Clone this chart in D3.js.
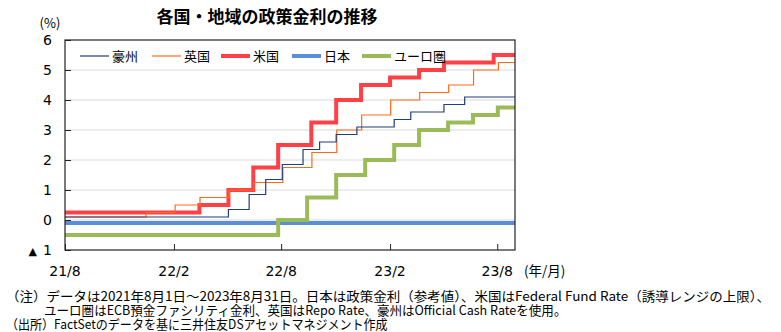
<!DOCTYPE html>
<html lang="ja">
<head>
<meta charset="utf-8">
<script src="https://cdn.jsdelivr.net/npm/d3@7"></script>
<style>
  html, body { margin: 0; padding: 0; background: #fff; }
  svg { display: block; }
</style>
</head>
<body>
<svg id="chart" width="781" height="332"></svg>
<script>
// Policy rate change dates and levels (rate in effect from that date on)
const startDate = "2021-08-01";
const endDate = "2023-08-31";

const audDates = ["2021-08-01","2022-05-04","2022-06-08","2022-07-06","2022-08-03","2022-09-07","2022-10-05","2022-11-02","2022-12-07","2023-02-08","2023-03-08","2023-05-03","2023-06-07"];
const audRates = [0.10,0.35,0.85,1.35,1.85,2.35,2.60,2.85,3.10,3.35,3.60,3.85,4.10];

const gbpDates = ["2021-08-01","2021-12-16","2022-02-03","2022-03-17","2022-05-05","2022-06-16","2022-08-04","2022-09-22","2022-11-03","2022-12-15","2023-02-02","2023-03-23","2023-05-11","2023-06-22","2023-08-03"];
const gbpRates = [0.10,0.25,0.50,0.75,1.00,1.25,1.75,2.25,3.00,3.50,4.00,4.25,4.50,5.00,5.25];

const usdDates = ["2021-08-01","2022-03-16","2022-05-04","2022-06-15","2022-07-27","2022-09-21","2022-11-02","2022-12-14","2023-02-01","2023-03-22","2023-05-03","2023-07-26"];
const usdRates = [0.25,0.50,1.00,1.75,2.50,3.25,4.00,4.50,4.75,5.00,5.25,5.50];

const jpyDates = ["2021-08-01"];
const jpyRates = [-0.10];

const eurDates = ["2021-08-01","2022-07-27","2022-09-14","2022-11-02","2022-12-21","2023-02-08","2023-03-22","2023-05-10","2023-06-21","2023-08-02"];
const eurRates = [-0.50,0.00,0.75,1.50,2.00,2.50,3.00,3.25,3.50,3.75];

const seriesNames = ["豪州","英国","米国","日本","ユーロ圏"];
const yTicks = [-1,0,1,2,3,4,5,6];
const xTickDates = ["2021-08-01","2022-02-01","2022-08-01","2023-02-01","2023-08-01"];
const xTickLabels = ["21/8","22/2","22/8","23/2","23/8"];

const title = "各国・地域の政策金利の推移";
const notes = [
  "（注）データは2021年8月1日～2023年8月31日。日本は政策金利（参考値）、米国はFederal Fund Rate（誘導レンジの上限）、",
  "ユーロ圏はECB預金ファシリティ金利、英国はRepo Rate、豪州はOfficial Cash Rateを使用。",
  "（出所）FactSetのデータを基に三井住友DSアセットマネジメント作成"
];

const parse = d3.utcParse("%Y-%m-%d");

const svg = d3.select("#chart");
const jp = "'Noto Sans CJK JP', 'Noto Sans', sans-serif";
const num = "'DejaVu Sans', Verdana, sans-serif";

const m = { left: 65, right: 266, top: 40, bottom: 82 };
const W = 781, H = 332;

const x = d3.scaleUtc()
  .domain([parse(startDate), parse(endDate)])
  .range([m.left, W - m.right]);
const y = d3.scaleLinear()
  .domain([-1, 6])
  .range([H - m.bottom, m.top]);

// Gridlines
svg.append("g")
  .selectAll("line")
  .data(yTicks.filter(v => v > -1 && v < 6))
  .join("line")
  .attr("x1", m.left).attr("x2", W - m.right)
  .attr("y1", d => y(d)).attr("y2", d => y(d))
  .attr("stroke", "#d9d9d9").attr("stroke-width", 1);

// Series as step lines
const series = [
  { dates: audDates, rates: audRates, color: "#1f3f7a", width: 1.2 },
  { dates: gbpDates, rates: gbpRates, color: "#ff6a1a", width: 1.2 },
  { dates: usdDates, rates: usdRates, color: "#ff4047", width: 4 },
  { dates: jpyDates, rates: jpyRates, color: "#5a8fd8", width: 4 },
  { dates: eurDates, rates: eurRates, color: "#9bbb59", width: 4 }
];

const line = d3.line()
  .x(d => x(d[0]))
  .y(d => y(d[1]))
  .curve(d3.curveStepAfter);

const plot = svg.append("g");
series.forEach(s => {
  const pts = s.dates.map((d, i) => [parse(d), s.rates[i]]);
  pts.push([parse(endDate), s.rates[s.rates.length - 1]]);
  s.pts = pts;
});
// Draw order: thick lines first, thin ones on top where they meet
[3, 4, 2, 1, 0].forEach(i => {
  const s = series[i];
  plot.append("path")
    .datum(s.pts)
    .attr("d", line)
    .attr("fill", "none")
    .attr("stroke", s.color)
    .attr("stroke-width", s.width)
    .attr("stroke-linejoin", "miter");
});

// Plot frame
svg.append("rect")
  .attr("x", m.left).attr("y", m.top)
  .attr("width", W - m.right - m.left)
  .attr("height", H - m.bottom - m.top)
  .attr("fill", "none").attr("stroke", "#222").attr("stroke-width", 1.2);

// Y axis (inward ticks)
const yAxis = d3.axisRight(y).tickValues(yTicks).tickSize(6).tickFormat("");
const yg = svg.append("g").attr("transform", `translate(${m.left},0)`).call(yAxis);
yg.select(".domain").remove();
yg.selectAll(".tick line").attr("stroke", "#222");

svg.append("g").selectAll("text")
  .data(yTicks)
  .join("text")
  .attr("x", 52).attr("y", d => y(d) + 5)
  .attr("text-anchor", "end")
  .attr("font-family", num).attr("font-size", 14).attr("fill", "#000")
  .text(d => d < 0 ? Math.abs(d) : d);
svg.append("text")
  .attr("x", 37).attr("y", y(-1) + 5)
  .attr("text-anchor", "end")
  .attr("font-family", num).attr("font-size", 11).attr("fill", "#000")
  .text("▲");

svg.append("text")
  .attr("x", 50).attr("y", 28)
  .attr("text-anchor", "middle")
  .attr("font-family", jp).attr("font-size", 13).attr("fill", "#000")
  .text("(%)");

// X axis (inward ticks)
const xAxis = d3.axisTop(x).tickValues(xTickDates.map(parse)).tickSize(6).tickFormat("");
const xg = svg.append("g").attr("transform", `translate(0,${H - m.bottom})`).call(xAxis);
xg.select(".domain").remove();
xg.selectAll(".tick line").attr("stroke", "#222");

svg.append("g").selectAll("text")
  .data(xTickDates)
  .join("text")
  .attr("x", d => x(parse(d)))
  .attr("y", 276)
  .attr("text-anchor", "middle")
  .attr("font-family", num).attr("font-size", 14).attr("fill", "#000")
  .text((d, i) => xTickLabels[i]);

svg.append("text")
  .attr("x", 524).attr("y", 276)
  .attr("font-family", jp).attr("font-size", 13.5).attr("fill", "#000")
  .text("(年/月)");

// Title
svg.append("text")
  .attr("x", 267).attr("y", 23)
  .attr("text-anchor", "middle")
  .attr("font-family", jp).attr("font-size", 17).attr("font-weight", "bold").attr("fill", "#000")
  .text(title);

// Legend
const legendX = [80, 152, 221, 292, 362];
const lg = svg.append("g");
series.forEach((s, i) => {
  lg.append("line")
    .attr("x1", legendX[i]).attr("x2", legendX[i] + 29)
    .attr("y1", 56).attr("y2", 56)
    .attr("stroke", s.color).attr("stroke-width", s.width);
  lg.append("text")
    .attr("x", legendX[i] + 32).attr("y", 61)
    .attr("font-family", jp).attr("font-size", 13).attr("fill", "#000")
    .text(seriesNames[i]);
});

// Notes: condensed horizontally to fit their line widths
const noteX = [6, 44, 6];
const noteY = [301, 315, 329];
const noteLen = [764, 523, 382];
const ng = svg.append("g");
notes.forEach((t, i) => {
  const g = ng.append("g");
  const txt = g.append("text")
    .attr("x", 0).attr("y", 0)
    .attr("font-family", jp).attr("font-size", 13).attr("fill", "#000")
    .text(t);
  const w = txt.node().getComputedTextLength();
  const sx = noteLen[i] / w;
  g.attr("transform", `translate(${noteX[i]},${noteY[i]}) scale(${sx},1)`);
});
</script>
</body>
</html>
